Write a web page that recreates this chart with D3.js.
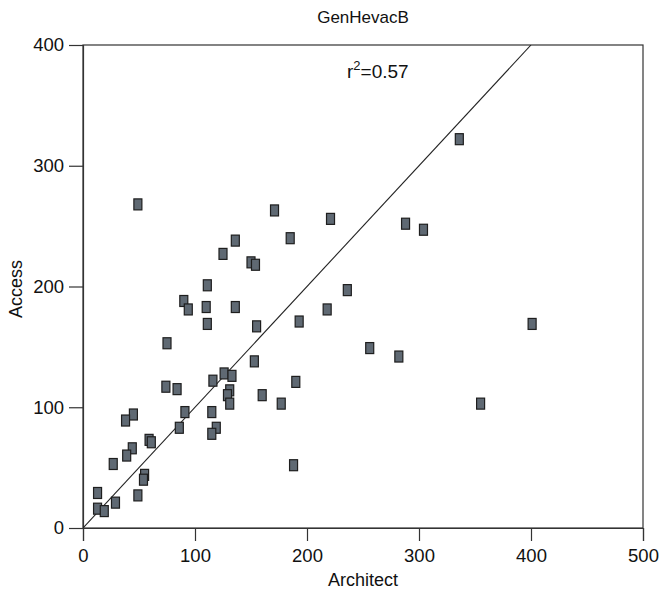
<!DOCTYPE html>
<html><head><meta charset="utf-8">
<script src="https://cdn.jsdelivr.net/npm/d3@7"></script>
<style>body{margin:0;background:#fff}text{font-family:"Liberation Sans",Arial,sans-serif;fill:#111}</style>
</head><body><svg id="c" width="665" height="595"></svg>
<script>
const architect = [49,171,136,125,150,154,111,90,94,110,136,111,155,75,153,116,126,133,74,84,131,129,131,160,177,91,115,45,38,86,119,115,59,61,44,39,27,55,54,13,49,29,13,19,336,221,185,288,304,236,218,193,401,256,282,190,355,188];
const access    = [268,263,238,227,220,218,201,188,181,183,183,169,167,153,138,122,128,126,117,115,114,110,103,110,103,96,96,94,89,83,83,78,73,71,66,60,53,44,40,29,27,21,16,14,322,256,240,252,247,197,181,171,169,149,142,121,103,52];
const xTicks = [0,100,200,300,400,500];
const yTicks = [0,100,200,300,400];
const fitSlope = 1.0, fitIntercept = 0;
const title = "GenHevacB", xLabel = "Architect", yLabel = "Access", r2Label = "0.57";

const svg = d3.select("#c");
const L=83,R=643,T=45,B=528;
const x = d3.scaleLinear().domain([0,500]).range([L,R]);
const y = d3.scaleLinear().domain([0,400]).range([B,T]);

svg.append("rect").attr("x",L).attr("y",T).attr("width",R-L).attr("height",B-T)
  .attr("fill","none").attr("stroke","#333").attr("stroke-width",1.2);

const gx = svg.append("g").attr("transform",`translate(0,${B})`)
  .call(d3.axisBottom(x).tickValues(xTicks).tickSize(13).tickPadding(8));
const gy = svg.append("g").attr("transform",`translate(${L},0)`)
  .call(d3.axisLeft(y).tickValues(yTicks).tickSize(14).tickPadding(5));
[gx,gy].forEach(g=>{
  g.select(".domain").attr("stroke","#333").attr("stroke-width",1.2);
  g.selectAll(".tick line").attr("stroke","#333").attr("stroke-width",1.2);
  g.selectAll(".tick text").attr("font-size",18.5).attr("font-family","Liberation Sans, Arial, sans-serif").attr("fill","#111");
});

svg.append("clipPath").attr("id","pc").append("rect").attr("x",L).attr("y",T).attr("width",R-L).attr("height",B-T);
const xEnd = (400-fitIntercept)/fitSlope;
svg.append("line").attr("clip-path","url(#pc)")
  .attr("x1",x(0)).attr("y1",y(fitIntercept))
  .attr("x2",x(xEnd)).attr("y2",y(fitSlope*xEnd+fitIntercept))
  .attr("stroke","#222").attr("stroke-width",1.1);

const pts = architect.map((a,i)=>({a,b:access[i]}));
svg.append("g").selectAll("rect").data(pts).join("rect")
  .attr("x",d=>x(d.a)-4).attr("y",d=>y(d.b)-5.5)
  .attr("width",8).attr("height",11)
  .attr("fill","#5f6973").attr("stroke","#1e1e1e").attr("stroke-width",1.2);

svg.append("text").attr("x",(L+R)/2).attr("y",23).attr("text-anchor","middle").attr("font-size",17).text(title);
svg.append("text").attr("x",(L+R)/2).attr("y",586).attr("text-anchor","middle").attr("font-size",18).text(xLabel);
svg.append("text").attr("transform",`translate(22,289) rotate(-90)`).attr("text-anchor","middle").attr("font-size",18).text(yLabel);
const t = svg.append("text").attr("x",347).attr("y",78).attr("font-size",19);
t.append("tspan").text("r");
t.append("tspan").attr("font-size",13).attr("dy",-8).text("2");
t.append("tspan").attr("dy",8).text("=" + r2Label);
</script></body></html>
